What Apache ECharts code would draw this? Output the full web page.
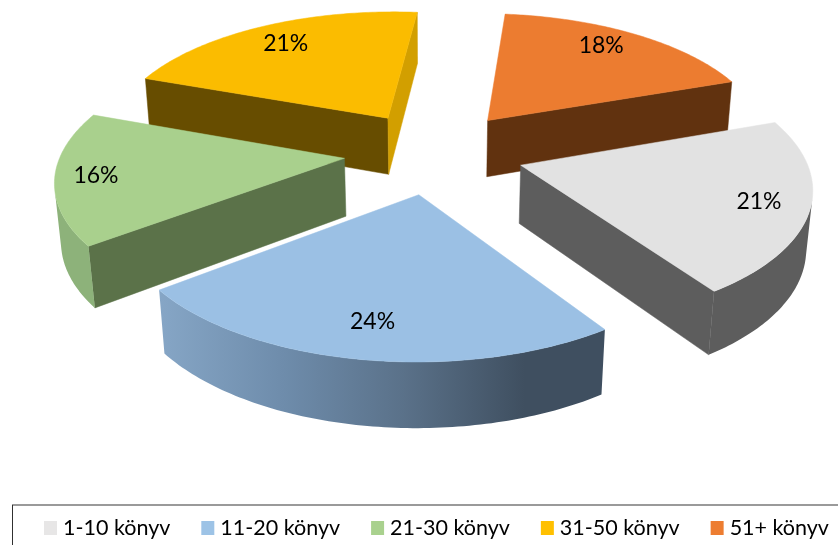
<!DOCTYPE html>
<html><head><meta charset="utf-8">
<style>html,body{margin:0;padding:0;background:#fff}#c{width:838px;height:545px}</style>
<script src="https://cdn.jsdelivr.net/npm/echarts@6/dist/echarts.min.js"></script>
</head><body><div id="c"></div>
<script>
const categories = ['1-10 könyv','11-20 könyv','21-30 könyv','31-50 könyv','51+ könyv'];
const values = [21,24,16,21,18];
const legendColors = ['#e7e6e6','#9dc3e6','#a9d18e','#ffc000','#ed7d31'];
const topColors = ['#e2e2e2','#9bc0e4','#a9d08d','#fbbc00','#ec7c30'];
const startWall = ['#5d5d5d','#5c7390','#5b7249','#674d00','#61320f'];
const endWall = ['#5d5d5d','#3f4f60','#5b7249','#d29f00','#61320f'];
const outerWall = ['#5d5d5d',null,'#8db27a','#d29f00','#61320f'];
const drawOrder = [4,3,2,0,1];
const labelRadius = [.83,.8,.86,.8,.82];
const labelAngle = [0,0.2,0,0,-3];

const startAngle = 70.5, R = 283, EXPLODE = 90, H = 66;
const CX = 434, CY = 152, SIN_E = .46, COS_E = Math.sqrt(1-SIN_E*SIN_E), D = 1780;

function project(x,y,z){
  const zc = D-(y*COS_E+z*SIN_E);
  const s = D/zc;
  return [CX+s*x, CY-s*(z*COS_E-y*SIN_E)];
}
const total = values.reduce((a,b)=>a+b,0);
function angles(i){
  let a = startAngle;
  for(let k=0;k<i;k++) a += values[k]/total*360;
  return [a, a+values[i]/total*360];
}
function area(p){let s=0;for(let i=0;i<p.length;i++){const q=p[(i+1)%p.length];s+=p[i][0]*q[1]-q[0]*p[i][1];}return s/2;}
function poly(points,fill){return {type:'polygon',shape:{points},style:{fill,stroke:fill,lineWidth:.5}};}

function renderSlice(i){
  const [a0,a1] = angles(i);
  const mid = (a0+a1)/2*Math.PI/180;
  const ox = EXPLODE*Math.sin(mid), oy = -EXPLODE*Math.cos(mid);
  const pt = (deg,r,z)=>{const t=deg*Math.PI/180;return project(ox+r*Math.sin(t),oy-r*Math.cos(t),z);};
  const kids = [];
  const wall = (deg)=>[pt(deg,0,0),pt(deg,R,0),pt(deg,R,-H),pt(deg,0,-H)];
  const ws = wall(a0), we = wall(a1);
  if(area(ws)<0) kids.push(poly(ws,startWall[i]));
  if(area(we)>0) kids.push(poly(we,endWall[i]));
  const N = 90, tops=[], bots=[];
  for(let k=0;k<N;k++){
    const t0=a0+(a1-a0)*k/N, t1=a0+(a1-a0)*(k+1)/N;
    const q=[pt(t0,R,0),pt(t1,R,0),pt(t1,R,-H),pt(t0,R,-H)];
    if(area(q)<0){ if(!tops.length){tops.push(q[0]);bots.push(q[3]);} tops.push(q[1]);bots.push(q[2]); }
  }
  if(tops.length){
    const fill = outerWall[i] || new echarts.graphic.LinearGradient(0,0,1,0,[
      {offset:0,color:'#86a6c6'},{offset:.28,color:'#6e8cab'},{offset:.55,color:'#5a7189'},{offset:.82,color:'#3f4f60'},{offset:1,color:'#3f4f60'}]);
    const outline = tops.concat(bots.reverse());
    kids.push({type:'polygon',shape:{points:outline},style:{fill}});
  }
  const face=[pt(a0,0,0)];
  for(let k=0;k<=N;k++) face.push(pt(a0+(a1-a0)*k/N,R,0));
  kids.push(poly(face,topColors[i]));
  const lp = pt((a0+a1)/2+labelAngle[i],R*labelRadius[i],0);
  kids.push({type:'text',x:lp[0],y:lp[1],style:{text:values[i]+'%',fill:'#000',font:'23px Lato, "Open Sans", sans-serif',align:'center',verticalAlign:'middle'}});
  return {type:'group',children:kids};
}

const chart = echarts.init(document.getElementById('c'),null,{renderer:'canvas'});
chart.setOption({
  animation:false,
  legend:{left:44,top:517,icon:'rect',itemWidth:13,itemHeight:14,itemGap:31,padding:0,
    data:categories,textStyle:{color:'#000',fontSize:21.5,padding:[0,0,0,1],fontFamily:'Lato, "Open Sans", sans-serif'},selectedMode:false},
  graphic:[
    {type:'line',shape:{x1:12,y1:505,x2:838,y2:505},style:{stroke:'#9a9a9a',lineWidth:2}},
    {type:'line',shape:{x1:12.5,y1:505,x2:12.5,y2:545},style:{stroke:'#303030',lineWidth:1}}
  ],
  series:categories.map((name,i)=>({
    type:'custom',name,coordinateSystem:'none',
    z:2+drawOrder.indexOf(i),
    itemStyle:{color:legendColors[i]},
    data:[[values[i]]],
    renderItem:()=>renderSlice(i)
  }))
});
</script></body></html>
